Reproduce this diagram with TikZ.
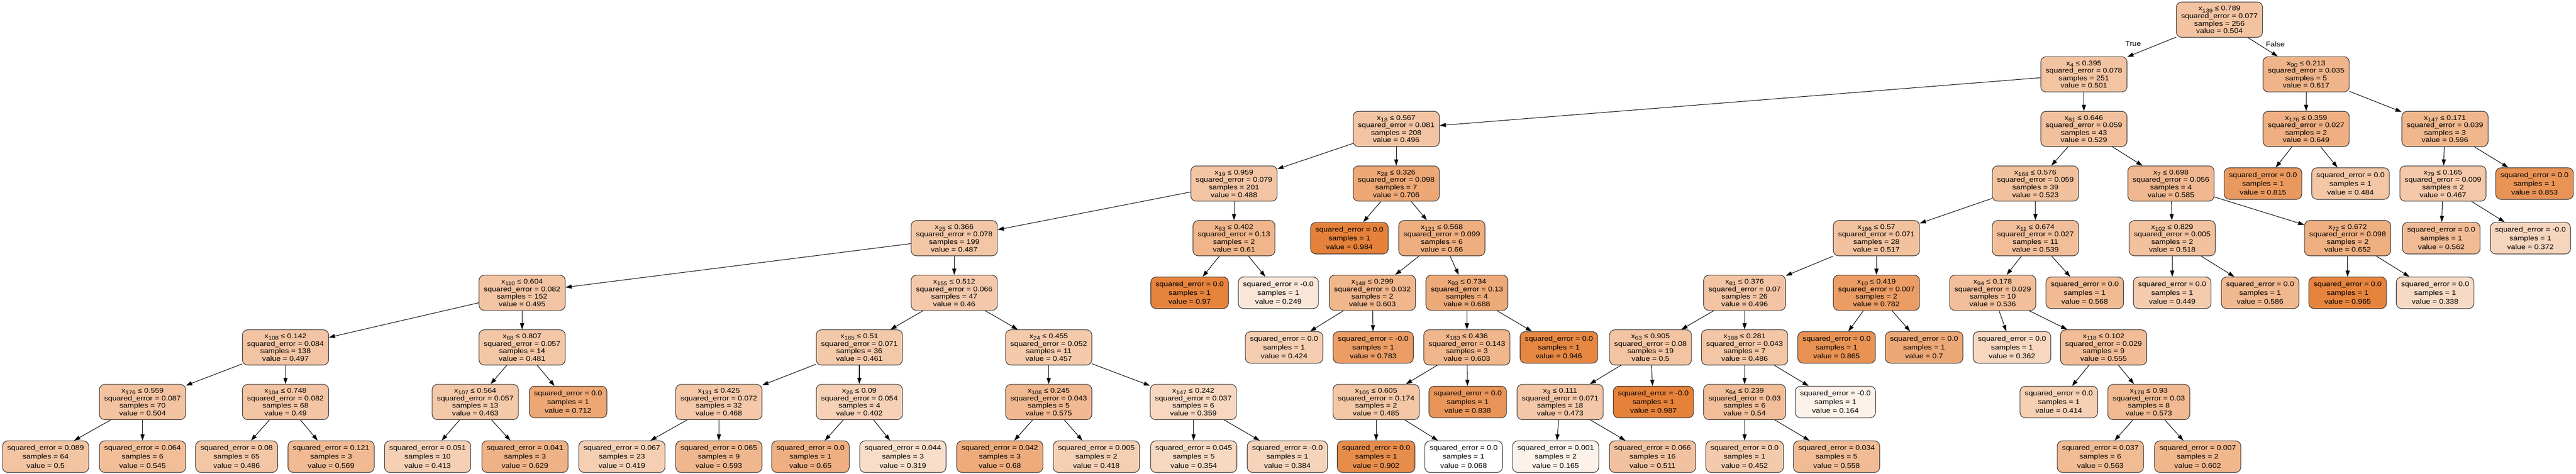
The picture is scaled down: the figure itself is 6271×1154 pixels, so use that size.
\documentclass[tikz,border=0pt]{standalone}
\usepackage{fontspec}
\setmainfont{Liberation Sans}[FakeStretch=1.14]
\usetikzlibrary{arrows.meta}
\definecolor{tor}{RGB}{229,129,57}
\newcommand{\xsub}[1]{x\raisebox{-2pt}{\fontsize{6.6pt}{6.6pt}\selectfont #1}}
\tikzset{
  tn/.style={draw=black!80, line width=0.7pt, rounded corners=6.5pt, align=center,
             inner xsep=5.8pt, inner ysep=0pt},
  inn/.style={tn, minimum height=43pt, font=\fontsize{8.25pt}{9.15pt}\selectfont},
  lf/.style={tn, minimum height=38.5pt, font=\fontsize{8.25pt}{10.75pt}\selectfont},
  vfill/.code={\pgfmathsetmacro\pct{max(0,min(100,(#1-0.068)/0.919*100))}%
    \edef\tmpfill{\noexpand\tikzset{fill=tor!\pct!white}}\tmpfill},
  con/.style={-{Triangle[length=7.5pt,width=5pt]}, line width=0.65pt, black},
  lab/.style={font=\fontsize{8.25pt}{9.15pt}\selectfont, inner sep=0pt}
}
\newcommand{\tin}[8]{\node[inn, vfill=#8] (#1) at ({#2},{48+133.1*#3})
  {\xsub{#4} ≤ #5\\squared\_error = #6\\samples = #7\\value = #8};}
\newcommand{\tlf}[6]{\node[lf, vfill=#6] (#1) at ({#2},{48+133.1*#3})
  {squared\_error = #4\\samples = #5\\value = #6};}
\begin{document}
\begin{tikzpicture}[x=0.5pt,y=-0.5pt]
\fill[white] (0,0) rectangle (6271,1154);
\useasboundingbox (0,0) rectangle (6271,1154);
% row 0-2
\tin{n0}{5403}{0}{139}{0.789}{0.077}{256}{0.504}
\tin{n1}{5073}{1}{4}{0.395}{0.078}{251}{0.501}
\tin{n2}{5614}{1}{90}{0.213}{0.035}{5}{0.617}
\tin{n3}{3399}{2}{18}{0.567}{0.081}{208}{0.496}
\tin{n4}{5073}{2}{81}{0.646}{0.059}{43}{0.529}
\tin{n5}{5614}{2}{176}{0.359}{0.027}{2}{0.649}
\tin{n6}{5952}{2}{147}{0.171}{0.039}{3}{0.596}
% row 3
\tin{n7}{3004}{3}{19}{0.959}{0.079}{201}{0.488}
\tin{n8}{3399}{3}{28}{0.326}{0.098}{7}{0.706}
\tin{n9}{4955}{3}{168}{0.576}{0.059}{39}{0.523}
\tin{n10}{5285}{3}{7}{0.698}{0.056}{4}{0.585}
\tlf{n11}{5509}{3}{0.0}{1}{0.815}
\tlf{n12}{5722}{3}{0.0}{1}{0.484}
\tin{n13}{5947}{3}{79}{0.165}{0.009}{2}{0.467}
\tlf{n14}{6170}{3}{0.0}{1}{0.853}
% row 4
\tin{n15}{2323}{4}{25}{0.366}{0.078}{199}{0.487}
\tin{n16}{3004}{4}{63}{0.402}{0.13}{2}{0.61}
\tlf{n17}{3285}{4}{0.0}{1}{0.984}
\tin{n18}{3510}{4}{121}{0.568}{0.099}{6}{0.66}
\tin{n19}{4568}{4}{166}{0.57}{0.071}{28}{0.517}
\tin{n20}{4955}{4}{11}{0.674}{0.027}{11}{0.539}
\tin{n21}{5288}{4}{102}{0.829}{0.005}{2}{0.518}
\tin{n22}{5715}{4}{72}{0.672}{0.098}{2}{0.652}
\tlf{n23}{5943}{4}{0.0}{1}{0.562}
\tlf{n24}{6160}{4}{-0.0}{1}{0.372}
% row 5
\tin{n25}{1271}{5}{110}{0.604}{0.082}{152}{0.495}
\tin{n26}{2323}{5}{155}{0.512}{0.066}{47}{0.46}
\tlf{n27}{2896}{5}{0.0}{1}{0.97}
\tlf{n28}{3112}{5}{-0.0}{1}{0.249}
\tin{n29}{3341}{5}{148}{0.299}{0.032}{2}{0.603}
\tin{n30}{3571}{5}{93}{0.734}{0.13}{4}{0.688}
\tin{n31}{4247}{5}{81}{0.376}{0.07}{26}{0.496}
\tin{n32}{4568}{5}{10}{0.419}{0.007}{2}{0.782}
\tin{n33}{4851}{5}{94}{0.178}{0.029}{10}{0.536}
\tlf{n34}{5075}{5}{0.0}{1}{0.568}
\tlf{n35}{5288}{5}{0.0}{1}{0.449}
\tlf{n36}{5502}{5}{0.0}{1}{0.586}
\tlf{n37}{5715}{5}{0.0}{1}{0.965}
\tlf{n38}{5928}{5}{0.0}{1}{0.338}
% row 6
\tin{n39}{695}{6}{108}{0.142}{0.084}{138}{0.497}
\tin{n40}{1271}{6}{88}{0.807}{0.057}{14}{0.481}
\tin{n41}{2092}{6}{165}{0.51}{0.071}{36}{0.461}
\tin{n42}{2553}{6}{24}{0.455}{0.052}{11}{0.457}
\tlf{n43}{3126}{6}{0.0}{1}{0.424}
\tlf{n44}{3343}{6}{-0.0}{1}{0.783}
\tin{n45}{3571}{6}{183}{0.436}{0.143}{3}{0.603}
\tlf{n46}{3795}{6}{0.0}{1}{0.946}
\tin{n47}{4018}{6}{63}{0.905}{0.08}{19}{0.5}
\tin{n48}{4247}{6}{168}{0.281}{0.043}{7}{0.486}
\tlf{n49}{4471}{6}{0.0}{1}{0.865}
\tlf{n50}{4684}{6}{0.0}{1}{0.7}
\tlf{n51}{4898}{6}{0.0}{1}{0.362}
\tin{n52}{5121}{6}{118}{0.102}{0.029}{9}{0.555}
% row 7
\tin{n53}{347}{7}{176}{0.559}{0.087}{70}{0.504}
\tin{n54}{695}{7}{104}{0.748}{0.082}{68}{0.49}
\tin{n55}{1157}{7}{107}{0.564}{0.057}{13}{0.463}
\tlf{n56}{1383}{7}{0.0}{1}{0.712}
\tin{n57}{1750}{7}{131}{0.425}{0.072}{32}{0.468}
\tin{n58}{2092}{7}{26}{0.09}{0.054}{4}{0.402}
\tin{n59}{2553}{7}{106}{0.245}{0.043}{5}{0.575}
\tin{n60}{2905}{7}{147}{0.242}{0.037}{6}{0.359}
\tin{n61}{3350}{7}{105}{0.605}{0.174}{2}{0.485}
\tlf{n62}{3573}{7}{0.0}{1}{0.838}
\tin{n63}{3798}{7}{3}{0.111}{0.071}{18}{0.473}
\tlf{n64}{4025}{7}{-0.0}{1}{0.987}
\tin{n65}{4247}{7}{64}{0.239}{0.03}{6}{0.54}
\tlf{n66}{4468}{7}{-0.0}{1}{0.164}
\tlf{n67}{5012}{7}{0.0}{1}{0.414}
\tin{n68}{5231}{7}{178}{0.93}{0.03}{8}{0.573}
% row 8
\tlf{n69}{111}{8}{0.089}{64}{0.5}
\tlf{n70}{347}{8}{0.064}{6}{0.545}
\tlf{n71}{576}{8}{0.08}{65}{0.486}
\tlf{n72}{806}{8}{0.121}{3}{0.569}
\tlf{n73}{1041}{8}{0.051}{10}{0.413}
\tlf{n74}{1278}{8}{0.041}{3}{0.629}
\tlf{n75}{1514}{8}{0.067}{23}{0.419}
\tlf{n76}{1750}{8}{0.065}{9}{0.593}
\tlf{n77}{1973}{8}{0.0}{1}{0.65}
\tlf{n78}{2198}{8}{0.044}{3}{0.319}
\tlf{n79}{2434}{8}{0.042}{3}{0.68}
\tlf{n80}{2669}{8}{0.005}{2}{0.418}
\tlf{n81}{2906}{8}{0.045}{5}{0.354}
\tlf{n82}{3134}{8}{-0.0}{1}{0.384}
\tlf{n83}{3350}{8}{0.0}{1}{0.902}
\tlf{n84}{3563}{8}{0.0}{1}{0.068}
\tlf{n85}{3787}{8}{0.001}{2}{0.165}
\tlf{n86}{4023}{8}{0.066}{16}{0.511}
\tlf{n87}{4247}{8}{0.0}{1}{0.452}
\tlf{n88}{4471}{8}{0.034}{5}{0.558}
\tlf{n89}{5113}{8}{0.037}{6}{0.563}
\tlf{n90}{5350}{8}{0.007}{2}{0.602}
% labels
\node[lab] (tl) at (5193,107) {True};
\node[lab] (fl) at (5539,107) {False};
% edges
\foreach \p/\c in {n0/n1,n0/n2,n1/n3,n1/n4,n2/n5,n2/n6,n3/n7,n3/n8,n4/n9,n4/n10,
  n5/n11,n5/n12,n6/n13,n6/n14,n7/n15,n7/n16,n8/n17,n8/n18,n9/n19,n9/n20,
  n10/n21,n10/n22,n13/n23,n13/n24,n15/n25,n15/n26,n16/n27,n16/n28,n18/n29,n18/n30,
  n19/n31,n19/n32,n20/n33,n20/n34,n21/n35,n21/n36,n22/n37,n22/n38,n25/n39,n25/n40,
  n26/n41,n26/n42,n29/n43,n29/n44,n30/n45,n30/n46,n31/n47,n31/n48,n32/n49,n32/n50,
  n33/n51,n33/n52,n39/n53,n39/n54,n40/n55,n40/n56,n41/n57,n41/n58,n42/n59,n42/n60,
  n45/n61,n45/n62,n47/n63,n47/n64,n48/n65,n48/n66,n52/n67,n52/n68,n53/n69,n53/n70,
  n54/n71,n54/n72,n55/n73,n55/n74,n57/n75,n57/n76,n58/n77,n58/n78,n59/n79,n59/n80,
  n60/n81,n60/n82,n61/n83,n61/n84,n63/n85,n63/n86,n65/n87,n65/n88,n68/n89,n68/n90}
  {\draw[con] (\p) -- (\c);}
\end{tikzpicture}
\end{document}
